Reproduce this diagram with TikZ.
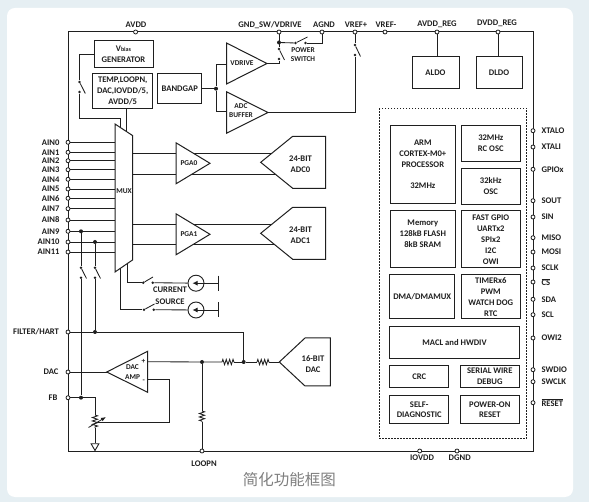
\documentclass[tikz,border=0pt]{standalone}
\usepackage{fontspec}
\setmainfont{Carlito}
\newfontfamily\cjkfont{Noto Sans CJK SC}
\usepackage{xcolor}
\usetikzlibrary{shapes.geometric, arrows.meta, decorations.pathmorphing}
\definecolor{page-blue}{HTML}{E6EFF3}
\definecolor{ink}{HTML}{1F1F1F}
\definecolor{caption-gray}{HTML}{7F7F7F}

\tikzset{
  wire/.style={line width=0.85pt, color=ink},
  outline/.style={draw=ink, line width=1pt, fill=white},
  block/.style={outline, align=center, inner sep=0pt, outer sep=0pt},
  ampbox/.style={block, isosceles triangle, isosceles triangle stretches, shape border rotate=0},
  pinmark/.style={circle, draw=ink, line width=0.8pt, fill=white, inner sep=0pt, minimum size=4pt},
  swdot/.style={circle, fill=ink, inner sep=0pt, minimum size=2.8pt},
  joint/.style={circle, fill=ink, inner sep=0pt, minimum size=4pt},
  reszig/.style={wire, decorate, decoration={zigzag, amplitude=2.6pt, segment length=3.4pt}},
  srcbox/.style={circle, draw=ink, line width=0.9pt, fill=white, inner sep=0pt, minimum size=16pt},
  smalltag/.style={font=\bfseries\fontsize{7.4}{9.6}\selectfont, align=center},
}

\begin{document}
\begin{tikzpicture}[x=1pt, y=-1pt,
    every node/.style={font=\bfseries\fontsize{8.6}{10.9}\selectfont, text=ink}]
  \useasboundingbox (0,0) rectangle (589,502);
  \fill[page-blue] (0,0) rectangle (589,502);
  \fill[white, rounded corners=8pt] (7,8) rectangle (573,497);

  \draw[wire, line width=1pt] (68,32) rectangle (533,451);
  \coordinate (muxedge) at (115,200);

  \foreach \i/\y in {0/142.3, 1/152.3, 2/160.7, 3/169.7, 4/179.3, 5/189,
      6/198.3, 7/208.7, 8/220, 9/231.3, 10/242, 11/252}{
    \node[pinmark] (ain\i) at (68,\y) {};
    \node[anchor=east] (lain\i) at (63,\y) {AIN\i};
    \draw[wire] (ain\i) -- (ain\i -| muxedge);
  }

  \foreach \p/\x/\txt/\lx/\ly in {pavdd/135.6/AVDD/136/24.5, pgnd/279/{GND\_SW/VDRIVE}/270/25,
      pagnd/322/AGND/324/25, pvrefp/355/VREF+/356/25, pvrefn/385/VREF-/386/25,
      paldo/437/AVDD\_REG/437/24.5, pdldo/498/DVDD\_REG/497/23}{
    \node[pinmark] (\p) at (\x,32) {};
    \node (l\p) at (\lx,\ly) {\txt};
  }

  \foreach \p/\y/\txt in {xtalo/130.7/XTALO, xtali/147/XTALI, gpio/169.3/GPIOx, sout/200.7/SOUT,
      sin/217/SIN, miso/237.7/MISO, mosi/252/MOSI, sclk/268/SCLK,
      cs/282/$\overline{\mbox{CS}}$, sda/299.3/SDA, scl/314.7/SCL, owi/338/OWI2,
      swdio/369.7/SWDIO, swclk/381.7/SWCLK, reset/402.7/$\overline{\mbox{RESET}}$}{
    \node[pinmark] (\p) at (533,\y) {};
    \node[anchor=west] (l\p) at (538,\y) {\txt};
  }

  \node[pinmark] (filter) at (68,332) {};
  \node[pinmark] (dacpin) at (68,372) {};
  \node[pinmark] (fb) at (68,397.7) {};
  \node[pinmark] (loopn) at (202,451) {};
  \node[pinmark] (iovdd) at (419.7,451) {};
  \node[pinmark] (dgnd) at (457,451) {};
  \node[anchor=east] (lfilter) at (62.5,332) {FILTER/HART};
  \node[anchor=east] (ldacpin) at (62,372) {DAC};
  \node[anchor=east] (lfb) at (61,397.7) {FB};
  \node (lloopn) at (204,463.7) {LOOPN};
  \node (liovdd) at (422,458) {IOVDD};
  \node (ldgnd) at (459.7,458) {DGND};

  % analog blocks on the left
  \node[block, minimum width=59pt, minimum height=27pt] (vbias) at (123.5,54.5)
    {V{\fontsize{6}{6}\selectfont bias}\\GENERATOR};
  \node[block, minimum width=59.5pt, minimum height=35pt] (temp) at (122.7,91)
    {TEMP,LOOPN,\\DAC,IOVDD/5,\\AVDD/5};
  \node[block, minimum width=43.5pt, minimum height=30.5pt] (bandgap) at (179.7,88.7) {BANDGAP};
  \node[ampbox, minimum width=41pt, minimum height=40.5pt, anchor=apex] (vdrive) at (267,63.5) {};
  \node[smalltag] (lvdrive) at (242,63.5) {VDRIVE};
  \node[ampbox, minimum width=41.5pt, minimum height=41.5pt, anchor=apex] (buffer) at (268,112.5) {};
  \node[smalltag] (lbuffer) at (241,110.8) {ADC\\BUFFER};

  \node[block, minimum width=47pt, minimum height=32pt] (aldo) at (435.5,73) {ALDO};
  \node[block, minimum width=46pt, minimum height=32pt] (dldo) at (499,73) {DLDO};

  % switches
  \foreach \sw/\ax/\ay/\bx/\by/\tx/\ty in {swvb/79.5/82/79.5/92/85.3/93.5, swdrv/279/49/279/59/284.5/60,
      swpow/295.5/43/305.5/43/307.5/37, swref/355/45/355/55/360.5/56.5,
      swa/81/267.7/81/277.7/86.5/278.5, swb/95/267.7/95/277.7/100.5/278.5,
      swc/143.3/282.7/152.7/282.7/153/277, swd/144/309.7/153.7/309.7/154.5/304}{
    \node[swdot] (\sw a) at (\ax,\ay) {};
    \node[swdot] (\sw b) at (\bx,\by) {};
    \coordinate (\sw t) at (\tx,\ty);
    \draw[wire] (\sw a) -- (\sw t);
  }
  \node[smalltag] (lpow) at (303,54.8) {POWER\\SWITCH};

  \node[joint] (jbg) at (216,88.7) {};
  \node[joint] (jgnd) at (279,42.5) {};
  \coordinate (cagnd) at (322,43);
  \coordinate (vdrivein) at (226.5,64.5);
  \coordinate (bufferin) at (226.5,111);
  \coordinate (tempout) at (126.7,108.5);
  \draw[wire] (bandgap.east) -- (jbg);
  \draw[wire] (vdrivein) -- (216,64.5) -- (jbg) -- (216,111) -- (bufferin);
  \draw[wire] (pgnd) -- (swdrva);
  \draw[wire] (jgnd) -- (swpowa);
  \draw[wire] (swpowb) -- (cagnd) -- (pagnd);
  \draw[wire] (vdrive.apex) -| (swdrvb);
  \draw[wire] (pvrefp) -- (swrefa);
  \draw[wire] (swrefb) |- (buffer.apex);
  \draw[wire] (paldo) -- (paldo |- aldo.north);
  \draw[wire] (pdldo) -- (pdldo |- dldo.north);
  \draw[wire] (vbias.west) -| (swvba);
  \draw[wire] (swvbb) |- (120.5,118) -- (120.5,127);
  \draw[wire] (tempout) -- (126.7,131);

  % mux and channels
  \coordinate (m1) at (115,124);
  \coordinate (m2) at (132.5,135.5);
  \coordinate (m3) at (132.5,260);
  \coordinate (m4) at (115,272);
  \draw[outline] (m1) -- (m2) -- (m3) -- (m4) -- cycle;
  \node[smalltag, inner sep=0pt] (lmux) at (124,190.7) {MUX};

  \foreach \y in {153.3, 174, 224, 244.7}{
    \coordinate (tap) at (132.5,\y);
    \draw[wire] (tap) -- (280,\y);
  }
  \foreach \nm/\txt/\ay/\ady/\adc in {pga0/PGA0/163.3/162.3/ADC0, pga1/PGA1/234.3/233.3/ADC1}{
    \node[ampbox, minimum width=41pt, minimum height=34pt, anchor=apex] (\nm) at (210,\ay) {};
    \node[smalltag] (l\nm) at (189,\ay-0.5) {\txt};
    \draw[outline] (260.7,\ady) -- (292.7,\ady-26) -- (325.7,\ady-26) -- (325.7,\ady+26) -- (292.7,\ady+26) -- cycle;
    \node[align=center] (l\adc) at (300.5,\ady+1.5) {24-BIT\\\adc};
  }

  % current sources
  \coordinate (csup) at (127,263.5);
  \coordinate (cslow) at (120,268);
  \foreach \cs/\y in {csrca/283.2, csrcb/310}{
    \node[srcbox] (\cs) at (196,\y) {};
    \coordinate (\cs r) at (218.3,\y);
    \coordinate (\cs t) at (218.3,\y-7.5);
    \coordinate (\cs u) at (218.3,\y+7.5);
    \coordinate (\cs tip) at (192.5,\y);
    \draw[wire, -{Latex[length=5pt,width=5pt]}] (\cs.east) -- (\cs tip);
    \draw[wire] (\cs.east) -- (\cs r);
    \draw[wire, line width=1.1pt] (\cs t) -- (\cs u);
  }
  \draw[wire] (csup) |- (swca);
  \draw[wire] (swcb) -- (csrca);
  \draw[wire] (cslow) |- (swda);
  \draw[wire] (swdb) -- (csrcb);
  \node (lcur) at (170,290) {CURRENT};
  \node (lsrc) at (170,301.3) {SOURCE};

  \node[joint] (j9) at (81,231.3) {};
  \node[joint] (j10) at (95,242) {};
  \node[joint] (jfil) at (95,332) {};
  \node[joint] (jfb) at (81,397.7) {};
  \draw[wire] (j9) -- (swaa);
  \draw[wire] (j10) -- (swba);
  \draw[wire] (swab) -- (jfb);
  \draw[wire] (swbb) -- (jfil);

  % dac path
  \coordinate (dacblk) at (279.3,362);
  \draw[outline] (dacblk) -- (305,338) -- (330.3,338) -- (330.3,386) -- (305,386) -- cycle;
  \node[align=center] (ldacblk) at (313,364) {16-BIT\\DAC};
  \node[joint] (jres) at (202,362) {};
  \node[joint] (jout) at (243.7,362) {};
  \coordinate (ra1) at (222,362);
  \coordinate (ra2) at (234,362);
  \coordinate (rb1) at (257,362);
  \coordinate (rb2) at (269,362);
  \coordinate (rc1) at (202,411);
  \coordinate (rc2) at (202,422);
  \draw[wire] (jfil) -- (filter);
  \draw[wire] (jfil) -- (243.7,332) -- (jout);
  \draw[wire] (147.7,361.7) -- (jres) -- (ra1);
  \draw[reszig] (ra1) -- (ra2);
  \draw[wire] (ra2) -- (jout) -- (rb1);
  \draw[reszig] (rb1) -- (rb2);
  \draw[wire] (rb2) -- (dacblk);
  \draw[wire] (jres) -- (rc1);
  \draw[reszig] (rc1) -- (rc2);
  \draw[wire] (rc2) -- (loopn);

  \coordinate (a1) at (106.7,372);
  \coordinate (a2) at (147.7,351.3);
  \coordinate (a3) at (147.7,392.3);
  \draw[outline] (a1) -- (a2) -- (a3) -- cycle;
  \node[smalltag] (lamp) at (132.5,372.3) {DAC\\AMP};
  \node[smalltag] (lplus) at (143.5,361.7) {+};
  \node[smalltag] (lminus) at (143.8,381) {-};
  \draw[wire] (dacpin) -- (a1);

  % feedback and trim
  \coordinate (rp1) at (95,415);
  \coordinate (rp2) at (95,428);
  \coordinate (arr1) at (88.5,427.5);
  \coordinate (arr2) at (106,417);
  \coordinate (fbc) at (95,397.7);
  \node[regular polygon, regular polygon sides=3, shape border rotate=180, draw=ink, line width=0.9pt,
    fill=white, inner sep=0pt, minimum size=9pt] (gnd) at (95,446) {};
  \draw[wire] (fb) -- (jfb) -- (fbc) -- (rp1);
  \draw[reszig] (rp1) -- (rp2);
  \draw[wire] (rp2) -- (gnd.north);
  \draw[wire, -{Latex[length=5pt,width=4pt]}] (arr1) -- (arr2);
  \draw[wire] (147.7,379.3) -- (169.7,379.3) -- (169.7,422.3) -- (98,422.3);

  % digital core
  \draw[ink, line width=0.8pt, dash pattern=on 1.6pt off 1.4pt] (379.3,108.3) rectangle (526.7,438.3);
  \node[block, minimum width=65pt, minimum height=78pt] (arm) at (422.8,164.3)
    {ARM\\CORTEX-M0+\\PROCESSOR\\[10.9pt]32MHz};
  \node[block, minimum width=59pt, minimum height=36.4pt] (rcosc) at (490.8,143.5) {32MHz\\RC OSC};
  \node[block, minimum width=59pt, minimum height=36pt] (khz) at (490.8,186.3) {32kHz\\OSC};
  \node[block, minimum width=65pt, minimum height=57pt] (mem) at (422.8,239.5) {};
  \node[align=center] (lmem) at (422.8,234) {Memory\\128kB FLASH\\8kB SRAM};
  \node[block, minimum width=59pt, minimum height=57pt] (fast) at (490.8,239.5)
    {FAST GPIO\\UARTx2\\SPIx2\\I2C\\OWI};
  \node[block, minimum width=65pt, minimum height=44.3pt] (dma) at (422.2,296.8) {DMA/DMAMUX};
  \node[block, minimum width=59pt, minimum height=44.3pt] (timer) at (490.8,296.8)
    {TIMERx6\\PWM\\WATCH DOG\\RTC};
  \node[block, minimum width=129.6pt, minimum height=32.3pt] (macl) at (454.5,342.8) {MACL and HWDIV};
  \node[block, minimum width=59pt, minimum height=22.7pt] (crc) at (419.2,376.4) {CRC};
  \node[block, minimum width=59pt, minimum height=22.7pt] (swd) at (489.8,376.4) {SERIAL WIRE\\DEBUG};
  \node[block, minimum width=59pt, minimum height=28pt] (self) at (419.2,409.7) {SELF-\\DIAGNOSTIC};
  \node[block, minimum width=59pt, minimum height=28pt] (por) at (489.8,409.7) {POWER-ON\\RESET};

  \node[font=\cjkfont\fontsize{15.5}{18}\selectfont, text=caption-gray] (title) at (289.3,480) {简化功能框图};
\end{tikzpicture}
\end{document}
